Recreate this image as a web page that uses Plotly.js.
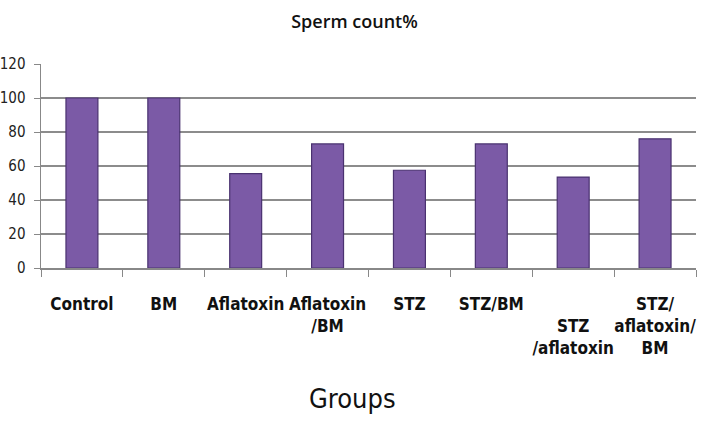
<!DOCTYPE html>
<html>
<head>
<meta charset="utf-8">
<script src="https://cdn.plot.ly/plotly-3.0.1.min.js"></script>
<style>html,body{margin:0;padding:0;background:#fff;}</style>
</head>
<body>
<div id="chart" style="width:709px;height:427px;"></div>
<script>
const categories = ["Control", "BM", "Aflatoxin", "Aflatoxin<br>/BM", "STZ", "STZ/BM", "<br>STZ<br>/aflatoxin", "STZ/<br>aflatoxin/<br>BM"];
const spermCount = [100, 100, 55.5, 73, 57.5, 73, 53.5, 76];
const yTicks = [0, 20, 40, 60, 80, 100, 120];

const narrow = "DejaVu Sans Condensed, Liberation Sans Narrow, Arial Narrow, Liberation Sans, sans-serif";

const trace = {
  type: "bar",
  x: categories,
  y: spermCount,
  width: 0.39,
  marker: {color: "#7b5aa6", line: {color: "#4a3270", width: 1.2}},
  hoverinfo: "skip"
};

const layout = {
  width: 709, height: 427,
  margin: {l: 41, r: 13, t: 64, b: 159},
  paper_bgcolor: "#ffffff",
  plot_bgcolor: "#ffffff",
  showlegend: false,
  title: {
    text: "Sperm count%",
    font: {family: "Open Sans, sans-serif", size: 18, color: "#111", weight: 600},
    x: 0.5, xanchor: "center", xref: "container",
    y: 1 - 22/427, yanchor: "middle", yref: "container"
  },
  xaxis: {
    type: "category",
    showgrid: false,
    showline: true, linecolor: "#888", linewidth: 1.5,
    ticks: "outside", tickson: "boundaries", ticklen: 7, tickcolor: "#888",
    tickfont: {family: narrow, size: 17, color: "#111", weight: "bold"},
    ticklabelstandoff: 20,
    tickangle: 0,
    automargin: false
  },
  yaxis: {
    range: [0, 120],
    tickvals: yTicks,
    ticktext: yTicks.map(String),
    showgrid: true, gridcolor: "#8c8c8c", gridwidth: 2,
    showline: true, linecolor: "#888", linewidth: 1.5,
    ticks: "outside", ticklen: 6, tickcolor: "#888",
    tickfont: {family: narrow, size: 15, color: "#222"},
    ticklabelstandoff: 5,
    zeroline: false,
    automargin: false
  },
  annotations: [{
    text: "Groups",
    xref: "paper", yref: "paper",
    x: 0.475, y: -130/204, xanchor: "center", yanchor: "middle",
    showarrow: false,
    font: {family: narrow, size: 27, color: "#111"}
  }]
};

Plotly.newPlot("chart", [trace], layout, {displayModeBar: false, staticPlot: true});
</script>
</body>
</html>
